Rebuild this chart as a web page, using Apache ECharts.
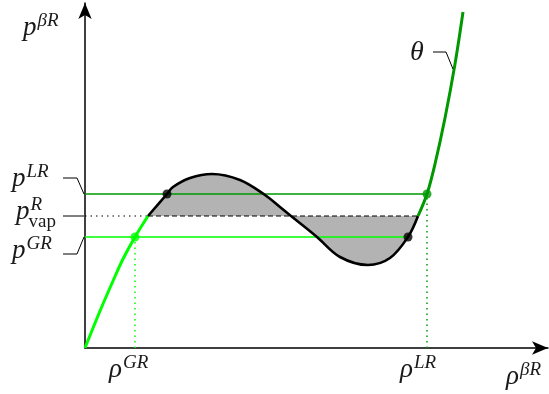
<!DOCTYPE html>
<html>
<head>
<meta charset="utf-8">
<script src="https://cdn.jsdelivr.net/npm/echarts@6/dist/echarts.min.js"></script>
<style>html,body{margin:0;padding:0;background:#fff;}#c{width:549px;height:394px;}</style>
</head>
<body>
<div id="c"></div>
<script>
// ---- data (arbitrary units: density rho, pressure p) ----
const gasBranch = [[0,0],[0.15,0.37],[0.28,0.67],[0.38,0.89],[0.50,1.11],[0.63,1.32]];
const loopBranch = [[0.63,1.32],[0.82,1.54],[0.88,1.61],[1.05,1.70],[1.27,1.74],[1.55,1.68],[1.80,1.53],[1.95,1.41],[2.06,1.32],[2.32,1.11],[2.55,0.91],[2.83,0.83],[3.05,0.90],[3.23,1.11],[3.33,1.32]];
const liquidBranch = [[3.33,1.32],[3.42,1.54],[3.50,1.84],[3.60,2.30],[3.70,2.84],[3.78,3.36]];
const rhoGR = 0.50, rhoLR = 3.42;
const pLR = 1.54, pVap = 1.32, pGR = 1.11;
const loopLeftGR = 3.23, loopLeftLR = 0.82, vapStart = 0.63, vapEnd = 3.33;
const xMax = 4.63, yMax = 3.45;

const DARK = '#009900', LIME = '#00ff00', GRAY = '#b3b3b3';

const chart = echarts.init(document.getElementById('c'), null, {renderer:'canvas'});
const seg = (data, color, width, type, z) => ({
  type:'line', data, symbol:'none', silent:true, z: z||2,
  lineStyle:{color, width, type: type||'solid'}
});
const curve = (data, color, width, z, extra) => Object.assign({
  type:'line', data, symbol:'none', smooth:0.35, silent:true, z,
  lineStyle:{color, width}
}, extra||{});
chart.setOption({
  animation:false,
  grid:{left:85, right:1, top:3, bottom:46},
  xAxis:{type:'value', min:0, max:xMax, splitLine:{show:false}, axisTick:{show:false}, axisLabel:{show:false},
    axisLine:{show:true, lineStyle:{color:'#000', width:1.5}, symbol:['none','arrow'], symbolSize:[10,16]}},
  yAxis:{type:'value', min:0, max:yMax, splitLine:{show:false}, axisTick:{show:false}, axisLabel:{show:false},
    axisLine:{show:true, lineStyle:{color:'#000', width:1.5}, symbol:['none','arrow'], symbolSize:[10,16]}},
  series:[
    curve(loopBranch, GRAY, 0, 1, {areaStyle:{color:GRAY, opacity:1, origin:pVap}}),
    seg([[0,pLR],[rhoLR,pLR]], DARK, 1.3),
    seg([[0,pGR],[loopLeftGR,pGR]], LIME, 1.3),
    seg([[0,pVap],[vapStart,pVap]], '#000', 1.2, [1.5,4]),
    seg([[vapStart,pVap],[vapEnd,pVap]], '#000', 1.2, [5,3]),
    seg([[rhoGR,0],[rhoGR,pGR]], LIME, 1.5, [1.5,4]),
    seg([[rhoLR,0],[rhoLR,pLR]], DARK, 1.5, [1.5,4]),
    curve(gasBranch, LIME, 3, 3),
    curve(loopBranch, '#000', 2.6, 3),
    curve(liquidBranch, DARK, 3, 3),
    {type:'scatter', symbolSize:9, z:4, silent:true, itemStyle:{color:LIME}, data:[[rhoGR,pGR]]},
    {type:'scatter', symbolSize:9, z:4, silent:true, itemStyle:{color:'#000'}, data:[[loopLeftLR,pLR],[loopLeftGR,pGR]]},
    {type:'scatter', symbolSize:9, z:4, silent:true, itemStyle:{color:DARK}, data:[[rhoLR,pLR]]}
  ]
});

// ---- labels ----
const ctx = document.createElement('canvas').getContext('2d');
const SERIF = '"Liberation Serif","DejaVu Serif",serif';
function tw(text, font){ ctx.font = font; return ctx.measureText(text).width; }
const els = [];
function txt(text, x, baseline, size, italic){
  const font = (italic ? 'italic ' : '') + size + 'px ' + SERIF;
  els.push({type:'text', silent:true, z:10, style:{text, x, y: baseline - 0.34*size, font, fill:'#1a1a1a', verticalAlign:'middle', align:'left'}});
  return tw(text, font);
}
function mathLabel(x, baseline, base, sup, sub){
  const w = txt(base, x, baseline, 27, true);
  if (sup) txt(sup, x + w + 1, baseline - 10, 19, true);
  if (sub) txt(sub, x + w - 1, baseline + 7, 19, false);
}
function line(points){
  els.push({type:'polyline', silent:true, z:10, shape:{points}, style:{stroke:'#000', lineWidth:1, fill:null}});
}
const px = (x,y) => chart.convertToPixel({gridIndex:0}, [x,y]);
const ax = px(0,0)[0], ay = px(0,0)[1];
const yLR = px(0,pLR)[1], yVap = px(0,pVap)[1], yGR = px(0,pGR)[1];
const xGR = px(rhoGR,0)[0], xLR = px(rhoLR,0)[0];

mathLabel(23, 37, 'p', 'βR');
mathLabel(12, yLR - 6, 'p', 'LR');
mathLabel(16, yVap + 5, 'p', 'R', 'vap');
mathLabel(12, yGR + 23, 'p', 'GR');
mathLabel(xGR - 26, ay + 31, 'ρ', 'GR');
mathLabel(xLR - 27, ay + 31, 'ρ', 'LR');
mathLabel(506, ay + 38, 'ρ', 'βR');
txt('θ', 410, 62, 28, true);

line([[63, yLR - 16],[77, yLR - 16],[ax - 1, yLR]]);
line([[63, yVap],[ax - 1, yVap]]);
line([[63, yGR + 17],[77, yGR + 17],[ax - 1, yGR]]);
// theta leader: end on the liquid branch
const th = px(3.69, 2.79);
line([[433, 52],[446, 52],[th[0] - 1, th[1]]]);

chart.setOption({graphic:els});
</script>
</body>
</html>
